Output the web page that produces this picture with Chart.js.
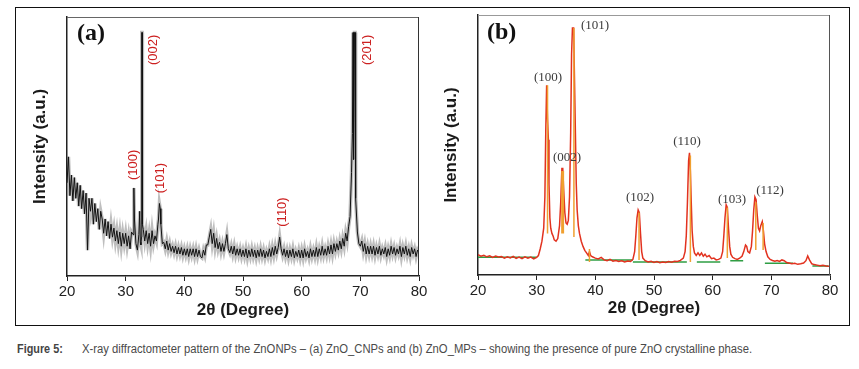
<!DOCTYPE html>
<html>
<head>
<meta charset="utf-8">
<script src="https://cdn.jsdelivr.net/npm/chart.js@4.4.1/dist/chart.umd.min.js"></script>
<style>
  body { margin:0; background:#fff; width:859px; height:369px; position:relative; overflow:hidden; }
  #frame { position:absolute; left:15px; top:7px; width:833px; height:317px; border:1px solid #111; }
  canvas { position:absolute; }
  #chartA { left:16px; top:8px; }
  #chartB { left:432px; top:8px; }
  .cap { position:absolute; top:343px; font-size:12.5px; line-height:12px; white-space:nowrap;
         font-family:"Liberation Sans Narrow","Liberation Sans",Arial,sans-serif; transform-origin:0 0; }
  #capLabel { left:17px; color:#444; font-weight:bold; }
  #capText { left:82px; color:#4a4a4a; }
</style>
</head>
<body>
<div id="frame"></div>
<canvas id="chartA" width="414" height="316"></canvas>
<canvas id="chartB" width="410" height="316"></canvas>
<div class="cap" id="capLabel">Figure 5:</div>
<div class="cap" id="capText">X-ray diffractometer pattern of the ZnONPs – (a) ZnO_CNPs and (b) ZnO_MPs – showing the presence of pure ZnO crystalline phase.</div>
<script>
// ---------------- panel (a) : ZnO_CNPs ----------------
const thetaA = [
  20.00, 20.25, 20.50, 20.75, 21.00, 21.25, 21.50, 21.75,
  22.00, 22.25, 22.50, 22.75, 23.00, 23.25, 23.50, 23.75,
  24.00, 24.25, 24.50, 24.75, 25.00, 25.25, 25.50, 25.75,
  26.00, 26.25, 26.50, 26.75, 27.00, 27.25, 27.50, 27.75,
  28.00, 28.25, 28.50, 28.75, 29.00, 29.25, 29.50, 29.75,
  30.00, 30.25, 30.50, 30.75, 31.00, 31.25, 31.50, 31.75,
  32.00, 32.25, 32.50, 32.75, 33.00, 33.25, 33.50, 33.75,
  34.00, 34.25, 34.50, 34.75, 35.00, 35.25, 35.50, 35.75,
  36.00, 36.25, 36.50, 36.75, 37.00, 37.25, 37.50, 37.75,
  38.00, 38.25, 38.50, 38.75, 39.00, 39.25, 39.50, 39.75,
  40.00, 40.25, 40.50, 40.75, 41.00, 41.25, 41.50, 41.75,
  42.00, 42.25, 42.50, 42.75, 43.00, 43.25, 43.50, 43.75,
  44.00, 44.25, 44.50, 44.75, 45.00, 45.25, 45.50, 45.75,
  46.00, 46.25, 46.50, 46.75, 47.00, 47.25, 47.50, 47.75,
  48.00, 48.25, 48.50, 48.75, 49.00, 49.25, 49.50, 49.75,
  50.00, 50.25, 50.50, 50.75, 51.00, 51.25, 51.50, 51.75,
  52.00, 52.25, 52.50, 52.75, 53.00, 53.25, 53.50, 53.75,
  54.00, 54.25, 54.50, 54.75, 55.00, 55.25, 55.50, 55.75,
  56.00, 56.25, 56.50, 56.75, 57.00, 57.25, 57.50, 57.75,
  58.00, 58.25, 58.50, 58.75, 59.00, 59.25, 59.50, 59.75,
  60.00, 60.25, 60.50, 60.75, 61.00, 61.25, 61.50, 61.75,
  62.00, 62.25, 62.50, 62.75, 63.00, 63.25, 63.50, 63.75,
  64.00, 64.25, 64.50, 64.75, 65.00, 65.25, 65.50, 65.75,
  66.00, 66.25, 66.50, 66.75, 67.00, 67.25, 67.50, 67.75,
  68.00, 68.25, 68.50, 68.75, 69.00, 69.25, 69.50, 69.75,
  70.00, 70.25, 70.50, 70.75, 71.00, 71.25, 71.50, 71.75,
  72.00, 72.25, 72.50, 72.75, 73.00, 73.25, 73.50, 73.75,
  74.00, 74.25, 74.50, 74.75, 75.00, 75.25, 75.50, 75.75,
  76.00, 76.25, 76.50, 76.75, 77.00, 77.25, 77.50, 77.75,
  78.00, 78.25, 78.50, 78.75, 79.00, 79.25, 79.50, 79.75,
  80.00
];
const intensityA = [
  36, 46, 31, 39, 29, 38, 30, 36,
  27, 35, 26, 33, 24, 32, 10, 30,
  25, 30, 20, 28, 21, 26, 18, 25,
  22, 16.5, 22, 15.5, 21, 14.5, 20, 15,
  18.5, 13.5, 17.5, 12.5, 17, 11.5, 16.5, 12.5,
  16.5, 11.5, 15.5, 10.5, 17, 16, 22, 12.5,
  10, 16, 13, 94, 18, 13.5, 17.5, 12.5,
  16.5, 11.5, 17.5, 12.5, 15.5, 13.5, 20, 28,
  20, 12.5, 13, 10.5, 13.5, 10, 12.5, 9.5,
  11.5, 9, 11.5, 8.5, 11, 8.5, 11, 8,
  10.5, 8, 10.5, 7.5, 10.5, 8, 10.5, 7.5,
  10.5, 7.5, 10, 7.5, 7, 10, 8, 12,
  12, 15, 18, 12.5, 16.5, 11, 14.5, 10.5,
  13, 9.5, 12.5, 9.5, 12.5, 16, 10.5, 9,
  11.5, 8.5, 11.5, 8, 10.5, 8, 10.5, 7.5,
  10, 7.5, 10.5, 7, 10, 7.5, 10.5, 7.5,
  10, 7, 10, 7.5, 10.5, 7.5, 10, 7,
  9.5, 7.5, 10.5, 7.5, 11, 8, 11.5, 8.5,
  11, 15, 10.5, 8, 10.5, 7.5, 10, 7,
  10, 7.5, 10.5, 7, 9.5, 7.5, 10, 7,
  10, 7, 10.5, 7.5, 9.5, 7, 10.5, 7.5,
  10, 7.5, 11, 7.5, 10.5, 8, 11.5, 8,
  10.5, 8, 11.5, 8.5, 12, 8.5, 12.5, 9.5,
  12.5, 10, 13.5, 10.5, 14.5, 11.5, 16.5, 13.5,
  19, 23, 40, 94, 94, 30, 17, 12.5,
  11.5, 13.5, 9.5, 12.5, 8.5, 11.5, 8.5, 11.5,
  8.5, 11.5, 8, 11, 8.5, 11.5, 8, 10.5,
  8.5, 11, 7.5, 10.5, 8, 11.5, 8.5, 11,
  8, 10.5, 8.5, 11.5, 7.5, 11, 8.5, 11.5,
  8, 10.5, 7.5, 11, 8.5, 10.5, 7.5, 10,
  9
];
// extra readings on the sharp peaks
const peakThetaA = [31.40, 32.40, 32.60, 32.70, 32.80, 32.85, 35.60, 35.90, 68.65, 68.85, 69.10, 69.15];
const peakIntA   = [34,    25,    12,    15,    94,    20,    22,    26,    55,    45,    94,    40];

const hklA = ['(002)', '(100)', '(101)', '(110)', '(201)'];
const hklThetaA = [34.66, 31.25, 35.85, 56.65, 71.13];
const hklIntA = [87.3, 42.9, 37.8, 24.7, 87.3];

// ---------------- panel (b) : ZnO_MPs ----------------
const thetaB = [
  20, 20.5, 21, 21.5, 22, 22.5, 23, 23.5, 24, 24.5,
  25, 25.5, 26, 26.5, 27, 27.5, 28, 28.5, 29, 29.5,
  30, 30.3, 30.6, 30.9, 31.2, 31.4, 31.55, 31.7, 31.85, 32.0,
  32.1, 32.25, 32.4, 32.6, 32.8, 33.0, 33.3, 33.6, 33.9, 34.1,
  34.3, 34.45, 34.6, 34.8, 35.0, 35.2, 35.4, 35.6, 35.8, 35.95,
  36.1, 36.3, 36.45, 36.6, 36.75, 36.9, 37.1, 37.3, 37.6, 37.9,
  38.2, 38.5, 38.8, 39.0, 39.2, 39.5, 40, 40.5, 41, 41.5,
  42, 42.5, 43, 43.5, 44, 44.5, 45, 45.5, 46, 46.4,
  46.7, 46.9, 47.1, 47.3, 47.5, 47.7, 47.9, 48.1, 48.5, 49,
  49.5, 50, 50.5, 51, 51.5, 52, 52.5, 53, 53.5, 54,
  54.5, 55, 55.3, 55.5, 55.7, 55.9, 56.05, 56.2, 56.35, 56.5,
  56.7, 56.9, 57.2, 57.5, 57.8, 58.1, 58.4, 58.7, 59.0, 59.4,
  59.8, 60.2, 60.6, 61.0, 61.4, 61.7, 61.9, 62.1, 62.3, 62.5,
  62.7, 62.9, 63.1, 63.4, 63.8, 64.2, 64.6, 65.0, 65.3, 65.6,
  65.8, 66.0, 66.3, 66.6, 66.8, 67.0, 67.2, 67.4, 67.6, 67.8,
  68.0, 68.2, 68.45, 68.65, 68.85, 69.1, 69.4, 69.8, 70.2, 70.6,
  71, 71.4, 71.8, 72.2, 72.6, 73, 73.5, 74, 74.5, 75,
  75.5, 75.9, 76.2, 76.5, 76.9, 77.3, 77.8, 78.3, 78.8, 79.3,
  79.7, 80
];
const intensityB = [
  7.8, 7.2, 7.6, 7.0, 7.4, 6.8, 7.3, 6.9, 7.1, 6.5,
  7.0, 6.6, 7.2, 6.4, 6.9, 6.3, 7.0, 6.5, 6.9, 6.2,
  6.8, 7.5, 10, 13, 18, 30, 55, 73, 60, 52,
  35, 22, 18, 16, 15, 13.5, 13, 14, 19, 28,
  41, 41, 33, 24, 20, 19.5, 21, 30, 55, 85,
  95, 95, 75, 55, 35, 25, 19, 16, 13, 11,
  9.5, 8.5, 7.5, 9, 7.5, 7, 6.5, 6.2, 6.8, 5.8,
  5.5, 6, 5.3, 5.6, 5.2, 5.5, 5, 5.4, 5.2, 6,
  9, 15, 22, 25, 24, 16, 9, 6.5, 5.5, 5,
  5.3, 4.8, 5.2, 4.7, 5, 4.8, 5.2, 4.9, 5.3, 5.2,
  5.6, 6.5, 9, 15, 28, 44, 47, 40, 28, 17,
  11, 8.5, 7.5, 8.5, 7.5, 8.5, 7.2, 8, 7, 7.5,
  6.3, 6.5, 5.8, 6, 6.5, 9, 15, 22, 27, 26,
  18, 11, 8, 6.8, 6.3, 6, 6.5, 7.2, 9, 11.5,
  11, 9, 8.5, 11, 17, 25, 30, 29, 23, 18,
  17, 19, 20.5, 17, 12, 9, 7, 6, 5.6, 5.3,
  5.6, 5.2, 5.8, 5.5, 4.8, 4.6, 4.3, 4.5, 4.1, 4.3,
  4.6, 5.5, 7.3, 5.8, 4.3, 4, 3.8, 3.6, 3.7, 3.5,
  3.4, 3.5
];
// reference stick lines (orange)
const stickTheta = [31.85, 34.3, 34.55, 36.35, 39.0, 47.45, 56.2, 62.5, 67.35, 68.6];
const stickTop   = [73,    40,   40,    95,    10,   24,    46,   26,   28,    20];
const stickBase  = [16,    16,   16,    14.6,  5,    5.8,   5,    6.5,  9.6,   9.6];
// fitted background segments (green)
const bgStart = [20, 38.3, 46.4, 57.3, 63.0, 68.9, 77.0];
const bgEnd   = [30, 46.4, 55.6, 61.3, 65.2, 73.7, 79.7];
const bgLevel = [6.8, 5.8, 5.0, 5.0, 5.5, 4.5, 3.5];

const hklB = ['(100)', '(002)', '(101)', '(102)', '(110)', '(103)', '(112)'];
const hklThetaB = [31.93, 35.17, 39.94, 47.61, 55.62, 63.29, 69.77];
const hklIntB = [75.8, 45, 95.8, 29.6, 51.2, 29.2, 32.3];

Chart.defaults.font.family = '"Liberation Sans", Arial, sans-serif';

function toPoints(xs, ys) {
  return xs.map((x, i) => ({ x: x, y: ys[i] }));
}

const plotFrame = {
  id: 'plotFrame',
  afterDatasetsDraw(chart, args, opts) {
    const ctx = chart.ctx, a = chart.chartArea;
    ctx.save();
    ctx.lineWidth = 1;
    ctx.strokeStyle = opts.topColor;
    ctx.beginPath(); ctx.moveTo(a.left, a.top + 0.5); ctx.lineTo(a.right, a.top + 0.5); ctx.stroke();
    ctx.strokeStyle = opts.rightColor;
    ctx.beginPath(); ctx.moveTo(a.right - 0.5, a.top); ctx.lineTo(a.right - 0.5, a.bottom); ctx.stroke();
    ctx.restore();
  }
};

const peakLabels = {
  id: 'peakLabels',
  afterDraw(chart, args, opts) {
    const ctx = chart.ctx, xs = chart.scales.x, ys = chart.scales.y;
    ctx.save();
    ctx.fillStyle = opts.color;
    ctx.font = opts.font;
    ctx.textAlign = 'center';
    ctx.textBaseline = 'middle';
    opts.texts.forEach((t, i) => {
      const px = xs.getPixelForValue(opts.thetas[i]);
      const py = ys.getPixelForValue(opts.ints[i]);
      ctx.save();
      ctx.translate(px, py);
      if (opts.rotate) ctx.rotate(-Math.PI / 2);
      ctx.fillText(t, 0, 0);
      ctx.restore();
    });
    // panel letter
    ctx.fillStyle = '#111';
    ctx.font = 'bold 24px "Liberation Serif", "Times New Roman", serif';
    ctx.textAlign = 'left';
    ctx.fillText(opts.panel, chart.chartArea.left + opts.panelDx, chart.chartArea.top + opts.panelDy);
    ctx.restore();
  }
};

function makeScales(yWidth, xHeight, yTitlePad, xTitlePad) {
  return {
    x: {
      type: 'linear', min: 20, max: 80,
      ticks: { stepSize: 10, color: '#222', font: { size: 15 }, padding: 2, maxRotation: 0 },
      grid: { drawOnChartArea: false, tickLength: 5, color: '#222' },
      border: { display: true, color: '#222', width: 1.5 },
      title: { display: true, text: '2θ (Degree)', color: '#1a1a1a', font: { size: 17, weight: 'bold' },
               padding: { top: 0, bottom: xTitlePad } },
      afterFit: s => { s.height = xHeight; }
    },
    y: {
      type: 'linear', min: 0, max: 100,
      ticks: { display: false },
      grid: { display: false },
      border: { display: true, color: '#222', width: 1.5 },
      title: { display: true, text: 'Intensity (a.u.)', color: '#1a1a1a', font: { size: 17, weight: 'bold' },
               padding: { top: yTitlePad, bottom: 0 } },
      afterFit: s => { s.width = yWidth; }
    }
  };
}

// merge the grid readings and the extra peak readings for (a)
const pointsA = toPoints(thetaA, intensityA).concat(toPoints(peakThetaA, peakIntA))
  .sort((p, q) => p.x - q.x);

const chartA = new Chart(document.getElementById('chartA'), {
  type: 'line',
  data: {
    datasets: [{
      // black trace on top
      data: pointsA,
      borderColor: '#111',
      borderWidth: 1,
      pointRadius: 0,
      tension: 0
    }, {
      // grey fringe of the noisy trace
      data: pointsA,
      borderColor: 'rgba(110,110,110,0.45)',
      borderWidth: 3.5,
      pointRadius: 0,
      tension: 0
    }]
  },
  options: {
    responsive: false,
    animation: false,
    devicePixelRatio: 1,
    layout: { padding: { top: 9, right: 11, left: 0, bottom: 0 } },
    scales: makeScales(51, 48, 13.8, 3.8),
    plugins: {
      legend: { display: false },
      tooltip: { enabled: false },
      plotFrame: { topColor: '#666', rightColor: '#333' },
      peakLabels: {
        texts: hklA, thetas: hklThetaA, ints: hklIntA, rotate: true,
        color: '#cc2020', font: '13px "Liberation Sans", Arial, sans-serif',
        panel: '(a)', panelDx: 10, panelDy: 17
      }
    }
  },
  plugins: [plotFrame, peakLabels]
});

// stick lines and background segments for (b), split by gaps
const sticks = [];
stickTheta.forEach((t, i) => {
  sticks.push({ x: t, y: stickBase[i] }, { x: t, y: stickTop[i] }, { x: t, y: null });
});
const bgSegs = [];
bgStart.forEach((s, i) => {
  bgSegs.push({ x: s, y: bgLevel[i] }, { x: bgEnd[i], y: bgLevel[i] }, { x: bgEnd[i], y: null });
});

const chartB = new Chart(document.getElementById('chartB'), {
  type: 'line',
  data: {
    datasets: [{
      data: sticks,
      borderColor: '#f0a030',
      borderWidth: 1.5,
      pointRadius: 0,
      spanGaps: false,
      order: 0
    }, {
      data: toPoints(thetaB, intensityB),
      borderColor: '#e2321f',
      borderWidth: 1.5,
      pointRadius: 0,
      tension: 0,
      order: 1
    }, {
      data: bgSegs,
      borderColor: '#2f9e44',
      borderWidth: 1.5,
      pointRadius: 0,
      spanGaps: false,
      order: 2
    }]
  },
  options: {
    responsive: false,
    animation: false,
    devicePixelRatio: 1,
    layout: { padding: { top: 7, right: 12, left: 0, bottom: 0 } },
    scales: makeScales(46, 49, 8.8, 5.8),
    plugins: {
      legend: { display: false },
      tooltip: { enabled: false },
      plotFrame: { topColor: '#999', rightColor: '#555' },
      peakLabels: {
        texts: hklB, thetas: hklThetaB, ints: hklIntB, rotate: false,
        color: '#3a3a3a', font: '13px "Liberation Serif", "Times New Roman", serif',
        panel: '(b)', panelDx: 9, panelDy: 18
      }
    }
  },
  plugins: [plotFrame, peakLabels]
});

// squeeze the caption to the narrow width of the original
function fitCaption(id, target) {
  const el = document.getElementById(id);
  el.style.transform = 'scaleX(' + (target / el.offsetWidth) + ')';
}
fitCaption('capLabel', 46);
fitCaption('capText', 670);
</script>
</body>
</html>
